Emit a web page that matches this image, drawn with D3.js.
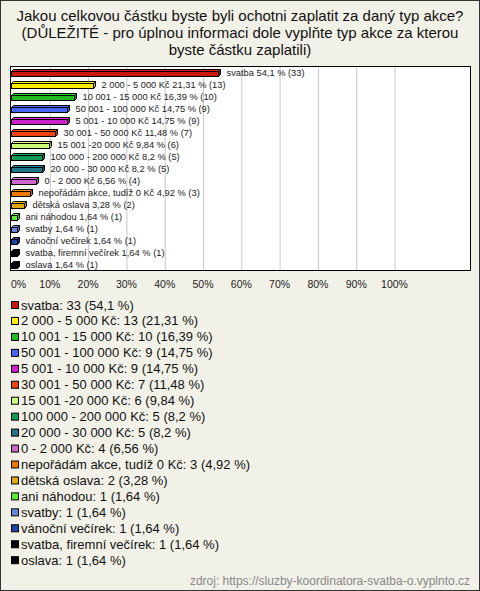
<!DOCTYPE html>
<html><head><meta charset="utf-8">
<script src="https://cdn.jsdelivr.net/npm/d3@7"></script>
<style>html,body{margin:0;padding:0;background:#f2f1e8;}svg{display:block;font-family:"Liberation Sans",Arial,sans-serif;}</style>
</head><body>
<script>
const titleLines = ["Jakou celkovou částku byste byli ochotni zaplatit za daný typ akce?",
  "(DŮLEŽITÉ - pro úplnou informaci dole vyplňte typ akce za kterou",
  "byste částku zaplatili)"];
const categories = ["svatba","2 000 - 5 000 Kč","10 001 - 15 000 Kč","50 001 - 100 000 Kč","5 001 - 10 000 Kč",
  "30 001 - 50 000 Kč","15 001 -20 000 Kč","100 000 - 200 000 Kč","20 000 - 30 000 Kč","0 - 2 000 Kč",
  "nepořádám akce, tudíž 0 Kč","dětská oslava","ani náhodou","svatby","vánoční večírek","svatba, firemní večírek","oslava"];
const counts = [33,13,10,9,9,7,6,5,5,4,3,2,1,1,1,1,1];
const percents = [54.1,21.31,16.39,14.75,14.75,11.48,9.84,8.2,8.2,6.56,4.92,3.28,1.64,1.64,1.64,1.64,1.64];
const colors = ["#c8170c","#ffee00","#22bb22","#4466ff","#cc22cc","#ee4411","#ccff77","#119955","#227788",
  "#cc66cc","#ee7700","#ddaa11","#55ee33","#6688dd","#2244aa","#000000","#000000"];
const ticks = [0,10,20,30,40,50,60,70,80,90,100];
const source = "zdroj: https://sluzby-koordinatora-svatba-o.vyplnto.cz";

const W=480,H=591;
const fmt = v => String(v).replace(".", ",");
const svg = d3.select("body").append("svg").attr("width",W).attr("height",H);
svg.append("rect").attr("x",0.5).attr("y",0.5).attr("width",W-1).attr("height",H-1)
  .attr("fill","#f2f1e8").attr("stroke","#333");

// title
svg.append("g").selectAll("text").data(titleLines).join("text")
  .attr("x",W/2).attr("y",(d,i)=>21+i*17).attr("text-anchor","middle")
  .attr("font-size",15).attr("fill","#111").text(d=>d);

const plot = {left:10, right:470, top:66, bottom:270};
const x = d3.scaleLinear().domain([0,100]).range([11,394]);
const y = d3.scaleBand().domain(categories).range([plot.top,plot.bottom]);

svg.append("rect").attr("x",plot.left+0.5).attr("y",plot.top+0.5)
  .attr("width",plot.right-plot.left).attr("height",plot.bottom-plot.top).attr("fill","#fff");

// gridlines
svg.append("g").attr("transform",`translate(0.5,${plot.bottom})`)
  .call(d3.axisBottom(x).tickValues(ticks.slice(1)).tickSize(-(plot.bottom-plot.top)).tickFormat(""))
  .call(g=>g.select(".domain").remove())
  .call(g=>g.selectAll("line").attr("stroke","#c8c8c8"));

svg.append("rect").attr("x",plot.left+0.5).attr("y",plot.top+0.5)
  .attr("width",plot.right-plot.left).attr("height",plot.bottom-plot.top)
  .attr("fill","none").attr("stroke","#000");

// tick labels
svg.append("g").attr("transform",`translate(0,${plot.bottom})`)
  .call(d3.axisBottom(x).tickValues(ticks).tickSize(0).tickPadding(11).tickFormat(d=>d+"%"))
  .call(g=>g.select(".domain").remove())
  .call(g=>g.selectAll("text").attr("font-size",10.5).attr("fill","#222")
     .attr("font-family","'Liberation Sans',Arial,sans-serif")
     .attr("dx",d=>d===0?7:0));

// 3D bars
const depth=2, fh=5;
const bars = svg.append("g").selectAll("g").data(categories).join("g");
bars.each(function(c,i){
  const g=d3.select(this);
  const cy=y(c)+y.bandwidth()/2;
  const x0=x(0)+0.5, x1=Math.round(x(percents[i]))+0.5;
  const yt=Math.round(cy-1.5)+0.5, yb=yt+fh;
  const col=d3.color(colors[i]);
  g.append("path").attr("d",`M${x0},${yt}L${x0+depth},${yt-depth}L${x1+depth},${yt-depth}L${x1},${yt}Z`)
    .attr("fill",col.brighter(0.4)).attr("stroke","#000").attr("stroke-width",1);
  g.append("path").attr("d",`M${x1},${yt}L${x1+depth},${yt-depth}L${x1+depth},${yb-depth}L${x1},${yb}Z`)
    .attr("fill",col.darker(0.6)).attr("stroke","#000").attr("stroke-width",1);
  g.append("rect").attr("x",x0).attr("y",yt).attr("width",x1-x0).attr("height",fh)
    .attr("fill",colors[i]).attr("stroke","#000").attr("stroke-width",1);
  g.append("text").attr("x",x1+depth+6).attr("y",cy+3.5).attr("font-size",9.3).attr("fill","#222")
    .text(`${c} ${fmt(percents[i])} % (${counts[i]})`);
});

// legend
const leg = svg.append("g").selectAll("g").data(categories).join("g")
  .attr("transform",(d,i)=>`translate(0,${305+i*15.95})`);
leg.append("rect").attr("x",11.5).attr("y",-3.5).attr("width",7).attr("height",7)
  .attr("fill",(d,i)=>colors[i]).attr("stroke","#000");
leg.append("text").attr("x",21).attr("y",4.5).attr("font-size",13).attr("fill","#111")
  .text((d,i)=>`${d}: ${counts[i]} (${fmt(percents[i])} %)`);

svg.append("text").attr("x",470).attr("y",585).attr("text-anchor","end").attr("font-size",12)
  .attr("fill","#888").text(source);
</script>
</body></html>
